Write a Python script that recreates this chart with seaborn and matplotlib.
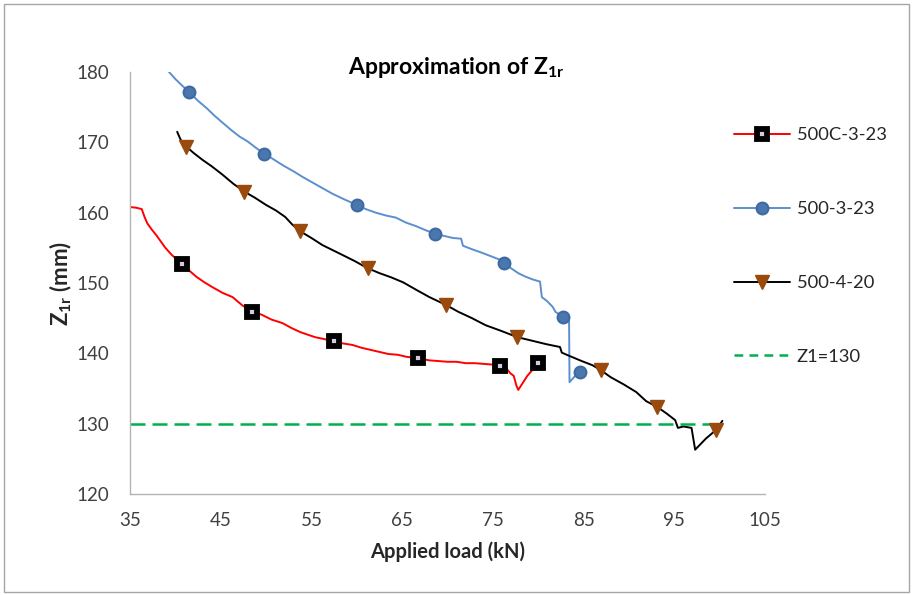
import seaborn as sns
import matplotlib.pyplot as plt
from matplotlib.lines import Line2D
from matplotlib.patches import Rectangle

# 500C-3-23 (red)
red_load = [35.0, 35.7, 36.3, 36.6, 36.9, 37.4, 37.9, 38.4, 38.9, 39.6, 40.7, 41.5, 42.3, 43.2,
            44.1, 45.2, 46.3, 47.4, 48.5, 49.5, 50.6, 51.8, 52.8, 53.8, 55.4, 56.5, 57.5, 58.5,
            59.5, 60.5, 61.5, 62.5, 63.5, 64.5, 65.5, 66.8, 68.0, 69.0, 70.0, 71.0, 72.0, 73.0,
            74.0, 75.0, 75.8, 76.4, 76.9, 77.3, 77.6, 77.8, 78.8, 80.0]
red_z = [160.8, 160.7, 160.5, 159.4, 158.5, 157.6, 156.8, 155.9, 155.0, 154.0, 152.7, 151.8,
         150.9, 150.1, 149.4, 148.6, 148.0, 146.8, 145.9, 145.5, 144.8, 144.3, 143.6, 143.0,
         142.3, 142.0, 141.7, 141.4, 141.2, 140.8, 140.5, 140.2, 139.9, 139.8, 139.5, 139.3,
         139.0, 138.9, 138.8, 138.8, 138.6, 138.6, 138.5, 138.4, 138.2, 138.0, 137.2, 136.8,
         135.4, 134.8, 136.8, 138.6]
red_mk_load = [40.7, 48.5, 57.5, 66.8, 75.8, 80.0]
red_mk_z = [152.7, 145.9, 141.7, 139.3, 138.2, 138.6]

# 500-3-23 (blue)
blue_load = [39.1, 40.0, 40.8, 41.5, 42.5, 43.5, 44.3, 45.2, 46.2, 47.1, 48.0, 48.9, 49.8, 50.8,
             51.9, 53.0, 54.0, 55.1, 56.2, 57.3, 58.6, 60.0, 61.0, 62.1, 63.2, 64.3, 65.4, 66.5,
             67.6, 68.6, 69.6, 70.6, 71.5, 71.7, 72.7, 73.8, 74.8, 75.8, 76.2, 77.0, 77.8, 78.6,
             79.4, 80.2, 80.4, 81.0, 81.6, 81.9, 82.7, 83.4, 83.45, 84.0, 84.6]
blue_z = [180.3, 179.0, 178.0, 177.2, 175.9, 174.8, 173.8, 172.8, 171.7, 170.8, 170.1, 169.2,
          168.4, 167.6, 166.7, 165.9, 165.1, 164.3, 163.5, 162.7, 161.9, 161.1, 160.5, 160.0,
          159.6, 159.3, 158.6, 158.1, 157.5, 157.0, 156.7, 156.4, 156.3, 155.3, 154.8, 154.3,
          153.8, 153.3, 152.9, 152.1, 151.4, 150.9, 150.5, 150.2, 148.0, 147.4, 146.6, 145.9,
          145.2, 145.0, 135.9, 136.7, 137.4]
blue_mk_load = [41.5, 49.8, 60.0, 68.6, 76.2, 82.7, 84.6]
blue_mk_z = [177.2, 168.4, 161.1, 157.0, 152.9, 145.2, 137.4]

# 500-4-20 (black)
black_load = [40.2, 40.5, 40.7, 41.2, 42.0, 43.0, 44.0, 45.2, 46.4, 47.6, 48.8, 50.0, 51.1, 52.1,
              52.9, 53.7, 55.0, 56.2, 57.3, 58.4, 59.8, 61.2, 62.5, 63.8, 65.1, 66.6, 68.0, 69.8,
              71.2, 72.7, 74.2, 75.9, 77.7, 79.3, 80.9, 82.4, 82.6, 83.5, 84.8, 86.0, 86.9, 88.0,
              89.4, 90.8, 91.9, 93.1, 94.2, 95.1, 95.4, 96.0, 96.9, 97.3, 98.5, 99.6, 100.3]
black_z = [171.5, 170.6, 170.1, 169.4, 168.5, 167.5, 166.6, 165.4, 164.1, 163.0, 162.1, 161.1,
           160.3, 159.4, 158.3, 157.4, 156.4, 155.4, 154.7, 154.0, 153.1, 152.1, 151.4, 150.8,
           150.1, 149.0, 148.0, 146.9, 145.9, 145.0, 144.0, 143.2, 142.3, 141.8, 141.3, 140.9,
           140.1, 139.6, 138.9, 138.3, 137.6, 136.6, 135.6, 134.5, 133.2, 132.4, 131.4, 130.5,
           129.4, 129.6, 129.4, 126.3, 127.9, 129.1, 130.4]
black_mk_load = [41.2, 47.6, 53.7, 61.2, 69.8, 77.7, 86.9, 93.1, 99.6]
black_mk_z = [169.4, 163.0, 157.4, 152.1, 146.9, 142.3, 137.6, 132.4, 129.1]

# Z1 = 130 reference
ref_load = [35.0, 100.3]
ref_z = [130, 130]

x_ticks = [35, 45, 55, 65, 75, 85, 95, 105]
y_ticks = [120, 130, 140, 150, 160, 170, 180]

sns.set_theme(style="white")
plt.rcParams['font.family'] = ['Lato', 'DejaVu Sans']
plt.rcParams['mathtext.fontset'] = 'custom'
plt.rcParams['mathtext.rm'] = 'Lato'
plt.rcParams['mathtext.bf'] = 'Lato:bold'

fig = plt.figure(figsize=(9.13, 5.95), dpi=100)
ax = fig.add_axes([130 / 913, 1 - 494 / 595, 635 / 913, 422 / 595])

red = '#ff0000'
blue = '#5b8fcf'
blue_mk = '#3d6aa3'
brown = '#9a4a0c'

sns.lineplot(x=red_load, y=red_z, sort=False, estimator=None, color=red, lw=1.4, ax=ax)
sns.lineplot(x=blue_load, y=blue_z, sort=False, estimator=None, color=blue, lw=1.4, ax=ax)
sns.lineplot(x=black_load, y=black_z, sort=False, estimator=None, color='black', lw=1.4, ax=ax)
ax.plot(ref_load, ref_z, color='#00b050', lw=1.8, dashes=(6, 2.8))

red_mk = dict(marker='s', ms=7.2, mfc='#d8c8e8', mec='black', mew=4.2)
blue_mkk = dict(marker='o', ms=8.5, mfc='#4a77ad', mec=blue_mk, mew=1.5)
black_mk = dict(marker='v', ms=9.5, mfc=brown, mec=brown, mew=1)

ax.plot(red_mk_load, red_mk_z, ls='none', **red_mk)
ax.plot(blue_mk_load, blue_mk_z, ls='none', **blue_mkk)
ax.plot(black_mk_load, black_mk_z, ls='none', **black_mk)

ax.set_xlim(35, 105)
ax.set_ylim(120, 180)
ax.set_xticks(x_ticks)
ax.set_yticks(y_ticks)
ax.tick_params(axis='both', length=0, labelsize=13.5, colors='#404040')
ax.tick_params(axis='y', pad=15)
ax.tick_params(axis='x', pad=13)
for s in ['top', 'right']:
    ax.spines[s].set_visible(False)
for s in ['left', 'bottom']:
    ax.spines[s].set_color('#b4b4b4')
    ax.spines[s].set_linewidth(1)

ax.set_xlabel('Applied load (kN)', fontsize=14.5, fontweight='bold', color='#262626', labelpad=9)
ax.set_ylabel(r'Z$_\mathbf{1r}$ (mm)', fontsize=16, fontweight='bold', color='#262626', labelpad=2)
fig.text(456 / 913, 1 - 68 / 595, r'Approximation of Z$_\mathbf{1r}$', ha='center', va='center',
         fontsize=16.5, fontweight='bold', color='black')

handles = [
    Line2D([], [], color=red, lw=1.4, **red_mk),
    Line2D([], [], color=blue, lw=1.4, **blue_mkk),
    Line2D([], [], color='black', lw=1.4, **black_mk),
    Line2D([], [], color='#00b050', lw=1.8, dashes=(3.5, 2.5)),
]
labels = ['500C-3-23', '500-3-23', '500-4-20', 'Z1=130']
fig.legend(handles, labels, loc='upper left', bbox_to_anchor=(717 / 913, 1 - 111 / 595),
           frameon=False, fontsize=13.2, handlelength=3.1, labelspacing=3.15, handletextpad=0.35,
           labelcolor='#262626')

fig.patches.append(Rectangle((4 / 913, 3 / 595), 905 / 913, 588 / 595, transform=fig.transFigure,
                             fill=False, edgecolor='#a6a6a6', lw=1))

fig.savefig('out.png', dpi=100)
